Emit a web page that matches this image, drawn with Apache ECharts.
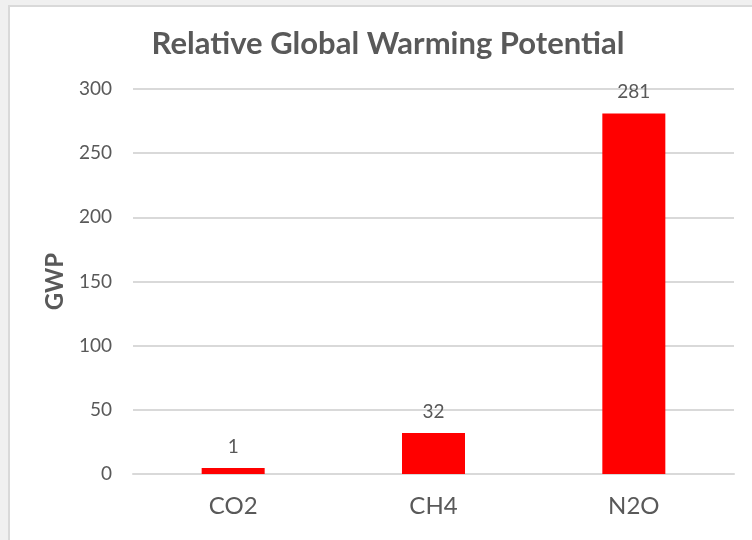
<!DOCTYPE html>
<html>
<head>
<meta charset="utf-8">
<style>
html,body{margin:0;padding:0;background:#fff;}
#chart{width:752px;height:540px;}
</style>
<script src="https://cdn.jsdelivr.net/npm/echarts@6/dist/echarts.min.js"></script>
</head>
<body>
<div id="chart"></div>
<script>
const titleText = "Relative Global Warming Potential";
const categories = ["CO2", "CH4", "N2O"];
const gwpValues = [1, 32, 281];
const yTicks = { min: 0, max: 300, interval: 50 };
const yAxisName = "GWP";

const txt = "#595959";
const font = "Lato";
const chart = echarts.init(document.getElementById("chart"), null, { renderer: "canvas" });
chart.setOption({
  backgroundColor: "#ffffff",
  animation: false,
  title: {
    text: titleText,
    left: 383,
    top: 23,
    textAlign: "center",
    textStyle: { fontFamily: font, fontWeight: "bold", fontSize: 31, color: txt }
  },
  graphic: [
    { type: "rect", shape: { x: 0, y: 0, width: 752, height: 5 }, style: { fill: "#f0f0f0" }, silent: true },
    { type: "rect", shape: { x: 0, y: 0, width: 8, height: 540 }, style: { fill: "#f0f0f0" }, silent: true },
    { type: "rect", shape: { x: 8, y: 5, width: 744, height: 2 }, style: { fill: "#d9d9d9" }, silent: true },
    { type: "rect", shape: { x: 8, y: 5, width: 2, height: 535 }, style: { fill: "#d9d9d9" }, silent: true }
  ],
  grid: { left: 133, right: 18, top: 89, bottom: 66, containLabel: false },
  xAxis: {
    type: "category",
    data: categories,
    axisLine: { show: true, lineStyle: { color: "#d9d9d9", width: 2 } },
    axisTick: { show: false },
    axisLabel: { color: txt, fontFamily: font, fontSize: 24, margin: 20 }
  },
  yAxis: {
    type: "value",
    min: yTicks.min,
    max: yTicks.max,
    interval: yTicks.interval,
    name: yAxisName,
    nameLocation: "middle",
    nameGap: 66,
    nameRotate: 90,
    nameTextStyle: { color: txt, fontFamily: font, fontWeight: "bold", fontSize: 24 },
    axisLine: { show: false },
    axisTick: { show: false },
    splitLine: { lineStyle: { color: "#d9d9d9", width: 2 } },
    axisLabel: { color: txt, fontFamily: font, fontSize: 19, margin: 21 }
  },
  series: [{
    type: "bar",
    data: gwpValues,
    barWidth: 63,
    barMinHeight: 6,
    itemStyle: { color: "#ff0000" },
    label: {
      show: true,
      position: "top",
      distance: 12,
      color: txt,
      fontFamily: font,
      fontSize: 19
    }
  }]
});
</script>
</body>
</html>
